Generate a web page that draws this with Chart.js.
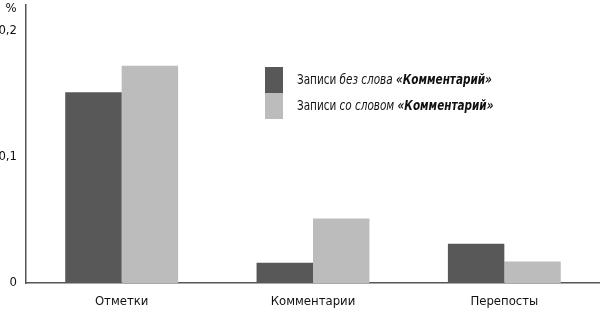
<!DOCTYPE html>
<html>
<head>
<meta charset="utf-8">
<script src="https://cdn.jsdelivr.net/npm/chart.js@4"></script>
<style>
  html, body { margin: 0; padding: 0; background: #fff; }
  #wrap { width: 600px; height: 310px; position: relative; }
</style>
</head>
<body>
<div id="wrap"><canvas id="chart" width="600" height="310"></canvas></div>
<script>
// --- datos ---
const categories = ['Отметки', 'Комментарии', 'Перепосты'];
const withoutWord = [0.151, 0.016, 0.031];
const withWord = [0.172, 0.051, 0.017];
const yTicks = [0, 0.1, 0.2];

const seriesLabels = [
  [['normal', 'Записи '], ['italic', 'без слова '], ['italic bold', '«Комментарий»']],
  [['normal', 'Записи '], ['italic', 'со словом '], ['italic bold', '«Комментарий»']]
];

const FONT = '"DejaVu Sans Condensed", "Liberation Sans Narrow", sans-serif';
const DARK = '#585858';
const LIGHT = '#bcbcbc';

// leyenda con estilos mezclados + símbolo %
const extras = {
  id: 'extras',
  afterDraw(chart) {
    const ctx = chart.ctx;
    const area = chart.chartArea;
    ctx.save();
    ctx.fillStyle = '#111';
    ctx.font = '13px ' + FONT;
    ctx.textBaseline = 'middle';
    ctx.textAlign = 'center';
    ctx.fillText('%', 11, 9);

    const boxX = area.left + 239, boxY = 67, boxW = 18, boxH = 26;
    ctx.textAlign = 'left';
    chart.data.datasets.forEach((ds, i) => {
      ctx.fillStyle = ds.backgroundColor;
      ctx.fillRect(boxX, boxY + i * boxH, boxW, boxH);
      const x0 = boxX + boxW + 14;
      const y = boxY + i * boxH + 13;
      ctx.fillStyle = '#111';
      ctx.save();
      ctx.translate(x0, y);
      ctx.scale(0.86, 1);
      let x = 0;
      seriesLabels[i].forEach(([style, txt]) => {
        ctx.font = (style === 'normal' ? '' : style + ' ') + '13.5px ' + FONT;
        ctx.fillText(txt, x, 0);
        x += ctx.measureText(txt).width;
      });
      ctx.restore();
    });
    ctx.restore();
  }
};

new Chart(document.getElementById('chart'), {
  type: 'bar',
  data: {
    labels: categories,
    datasets: [
      { label: 'Записи без слова «Комментарий»', data: withoutWord, backgroundColor: DARK },
      { label: 'Записи со словом «Комментарий»', data: withWord, backgroundColor: LIGHT }
    ]
  },
  options: {
    responsive: false,
    animation: false,
    devicePixelRatio: 1,
    layout: { padding: { top: 5, right: 0, left: 0, bottom: 0 } },
    categoryPercentage: 0.59,
    barPercentage: 1.0,
    plugins: { legend: { display: false }, tooltip: { enabled: false } },
    scales: {
      x: {
        grid: { display: false },
        border: { display: true, color: '#555', width: 1.5 },
        ticks: { color: '#111', font: { family: FONT, size: 13 }, padding: 3 },
        afterFit(scale) { scale.height = 27; }
      },
      y: {
        min: 0,
        max: 0.22,
        grid: { display: false, drawTicks: false },
        border: { display: true, color: '#555', width: 1.5 },
        afterBuildTicks(scale) { scale.ticks = yTicks.map(v => ({ value: v })); },
        ticks: {
          color: '#111',
          font: { family: FONT, size: 13 },
          padding: 9,
          callback: v => String(v).replace('.', ',')
        },
        afterFit(scale) {
          scale.width = 26;
          scale.paddingTop = 0;
          scale.paddingBottom = 0;
        }
      }
    }
  },
  plugins: [extras]
});
</script>
</body>
</html>
